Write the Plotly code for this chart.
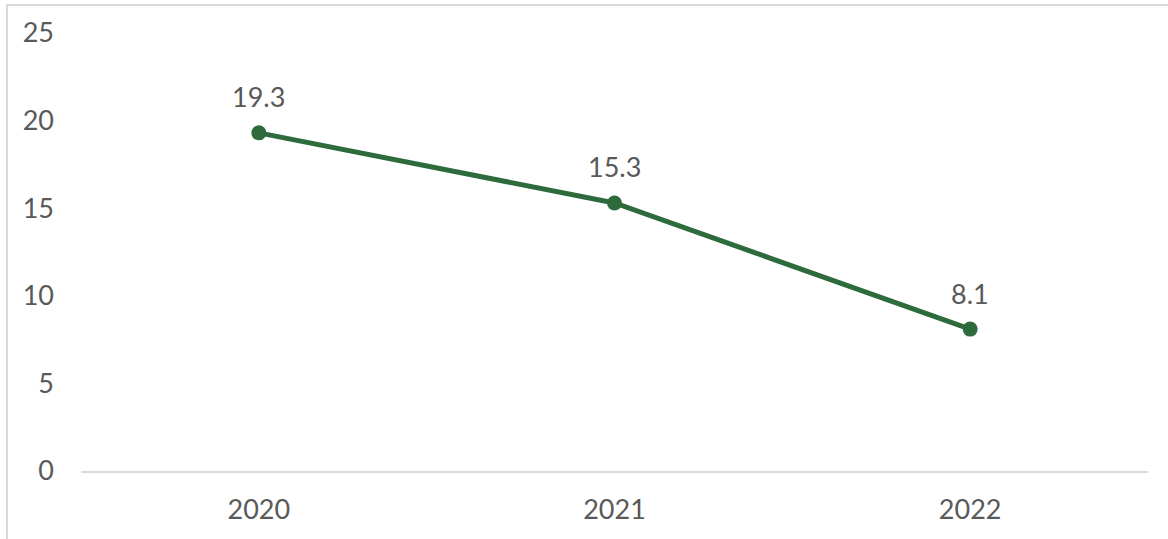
import plotly.graph_objects as go

# Series data
years = ["2020", "2021", "2022"]
values = [19.3, 15.3, 8.1]
y_ticks = [0, 5, 10, 15, 20, 25]

line_color = "#2E6B3C"
text_color = "#595959"
font_family = "Lato, 'Open Sans', sans-serif"

W, H = 1168, 539
ml, mr, mt, mb = 81, 20, 33, 68
pw, ph = W - ml - mr, H - mt - mb


def px_x(p):
    return (p - ml) / pw


def px_y(p):
    return (H - mb - p) / ph


label_font = dict(family=font_family, size=27, color=text_color)

fig = go.Figure(
    go.Scatter(
        x=years,
        y=values,
        mode="lines+markers",
        line=dict(color=line_color, width=5),
        marker=dict(color=line_color, size=15),
        cliponaxis=False,
        hoverinfo="skip",
    )
)

# Value labels above each point (category index positions)
for i, v in enumerate(values):
    fig.add_annotation(
        x=i,
        y=v,
        xref="x",
        yref="y",
        text=f"{v:.1f}",
        showarrow=False,
        yanchor="middle",
        yshift=36,
        font=label_font,
    )

fig.update_layout(
    width=W,
    height=H,
    margin=dict(l=ml, r=mr, t=mt, b=mb),
    paper_bgcolor="white",
    plot_bgcolor="white",
    showlegend=False,
    font=label_font,
    xaxis=dict(
        type="category",
        range=[-0.5, 2.5],
        showgrid=False,
        showline=True,
        linecolor="#D9D9D9",
        linewidth=2,
        ticks="",
        ticklabelstandoff=14,
        tickfont=label_font,
        fixedrange=True,
    ),
    yaxis=dict(
        range=[0, 25],
        tickvals=y_ticks,
        showgrid=False,
        zeroline=False,
        showline=False,
        ticks="",
        ticklabelstandoff=26,
        tickfont=label_font,
        fixedrange=True,
    ),
    shapes=[
        dict(
            type="rect",
            xref="paper",
            yref="paper",
            x0=px_x(7),
            x1=px_x(1175),
            y0=px_y(550),
            y1=px_y(5),
            line=dict(color="#D9D9D9", width=2),
            fillcolor="rgba(0,0,0,0)",
            layer="below",
        )
    ],
)

fig.write_html("out.html")
